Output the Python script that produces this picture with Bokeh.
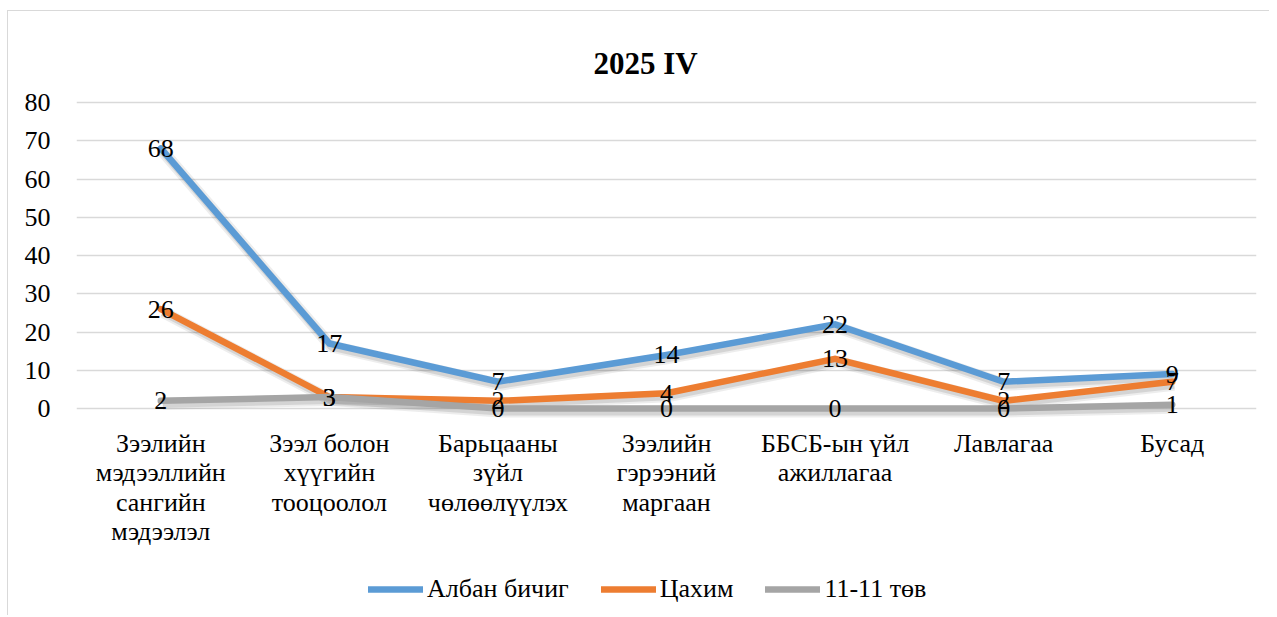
from bokeh.plotting import figure
from bokeh.models import FixedTicker, Legend, LegendItem, ColumnDataSource
from bokeh.core.properties import value
from bokeh.embed import file_html
from bokeh.resources import INLINE

title_text = "2025 IV"
categories = [
    "Зээлийн\nмэдээллийн\nсангийн\nмэдээлэл",
    "Зээл болон\nхүүгийн\nтооцоолол",
    "Барьцааны\nзүйл\nчөлөөлүүлэх",
    "Зээлийн\nгэрээний\nмаргаан",
    "ББСБ-ын үйл\nажиллагаа",
    "Лавлагаа",
    "Бусад",
]
series_names = ["Албан бичиг", "Цахим", "11-11 төв"]
albam = [68, 17, 7, 14, 22, 7, 9]
tsakhim = [26, 3, 2, 4, 13, 2, 7]
tov = [2, 3, 0, 0, 0, 0, 1]
y_ticks = [0, 10, 20, 30, 40, 50, 60, 70, 80]

colors = ["#5B9BD5", "#ED7D31", "#A5A5A5"]
FONT = "Liberation Serif"

# layout (pixels)
W, H = 1262, 605
LEFT, RIGHT = 68, 14
Y0_PX, Y80_PX = 397, 91           # canvas y of value 0 and value 80
ppu = (Y0_PX - Y80_PX) / 80.0     # pixels per unit
y_end = 80 + Y80_PX / ppu
y_start = -(H - Y0_PX) / ppu
n = len(categories)
ppx = (W - LEFT - RIGHT) / n

def y_of(py):
    return (Y0_PX - py) / ppu

def x_of(px):
    return -0.5 + (px - LEFT) / ppx

p = figure(
    width=W, height=H,
    x_range=(-0.5, n - 0.5), y_range=(y_start, y_end),
    output_backend="svg", toolbar_location=None,
    x_axis_location=None,
    min_border_left=LEFT, min_border_right=RIGHT, min_border_top=0, min_border_bottom=0,
    styles={"margin-left": "7px", "margin-top": "10px",
            "border-left": "1px solid #D9D9D9", "border-top": "1px solid #D9D9D9"},
)
p.outline_line_color = None
p.background_fill_color = "white"
p.border_fill_color = "white"

p.xgrid.grid_line_color = None
p.ygrid.ticker = FixedTicker(ticks=y_ticks)
p.ygrid.grid_line_color = "#D9D9D9"
p.ygrid.grid_line_width = 1.5

p.yaxis.ticker = FixedTicker(ticks=y_ticks)
p.yaxis.axis_line_color = None
p.yaxis.major_tick_line_color = None
p.yaxis.minor_tick_line_color = None
p.yaxis.major_label_text_font = FONT
p.yaxis.major_label_text_font_size = "26px"
p.yaxis.major_label_text_color = "black"
p.yaxis.major_label_standoff = 20

xs = list(range(n))

# title
p.text([x_of(645 - 8)], [y_of(52)], text=[title_text], text_align="center",
       text_baseline="alphabetic", text_font=value(FONT), text_font_size="31px",
       text_font_style="bold", text_color="black")

# category labels
cat_src = ColumnDataSource(dict(x=xs, y=[y_of(417)] * n, t=categories))
p.text("x", "y", text="t", source=cat_src, text_align="center", text_baseline="top",
       text_font=value(FONT), text_font_size="26px", text_color="black",
       text_line_height=1.02)

data = [albam, tsakhim, tov]
items = []
for name, vals, col in zip(series_names, data, colors):
    shadow = [v - 3.0 / ppu for v in vals]
    p.line([x + 2.0 / ppx for x in xs], shadow, line_color="black", line_alpha=0.07, line_width=12)
    p.line([x + 2.0 / ppx for x in xs], shadow, line_color="black", line_alpha=0.10, line_width=8)
    r = p.line(xs, vals, line_color=col, line_width=6.5, line_join="miter", line_cap="round")
    items.append(LegendItem(label=name, renderers=[r]))

for vals in data:
    src = ColumnDataSource(dict(x=xs, y=vals, t=[str(v) for v in vals]))
    p.text("x", "y", text="t", source=src, text_align="center", text_baseline="middle",
           text_font=value(FONT), text_font_size="26px", text_color="black")

legend = Legend(items=items, orientation="horizontal", location=(368 - 8 - LEFT, 12))
legend.label_text_font = FONT
legend.label_text_font_size = "26px"
legend.label_text_color = "black"
legend.glyph_width = 55
legend.glyph_height = 20
legend.label_standoff = 4
legend.spacing = 32
legend.padding = 0
legend.margin = 0
legend.border_line_color = None
legend.background_fill_alpha = 0
p.add_layout(legend)

open("out.html", "w").write(file_html(p, INLINE))
